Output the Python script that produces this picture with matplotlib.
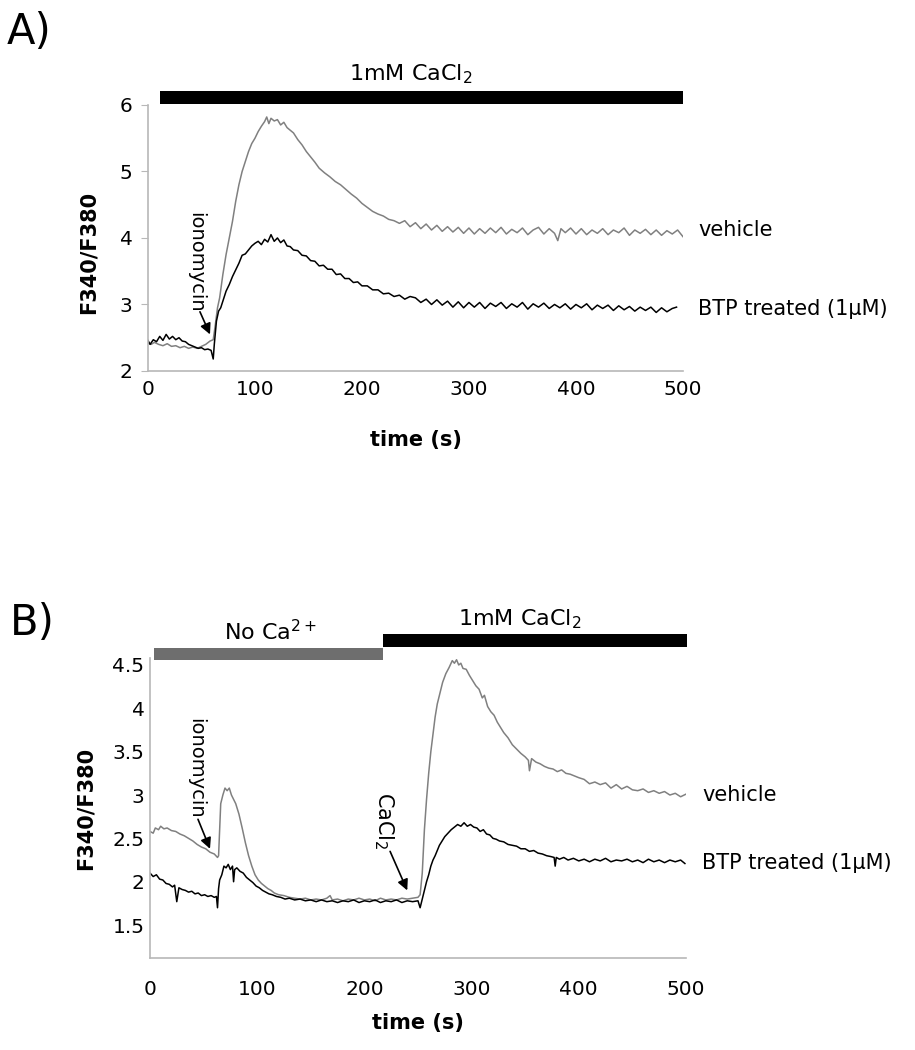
import matplotlib
matplotlib.use("Agg")
import matplotlib.pyplot as plt
import numpy as np
from matplotlib.patches import Rectangle

# panel A traces (time s, F340/F380)
vehicle_a = [(0, 2.42), (3, 2.40), (6, 2.43), (10, 2.40), (14, 2.38), (18, 2.41), (22, 2.37), (26, 2.38),
             (30, 2.35), (34, 2.37), (38, 2.34), (42, 2.36), (46, 2.34), (50, 2.37), (54, 2.40), (58, 2.45),
             (61, 2.47), (63, 2.70), (65, 2.95), (67, 3.10), (70, 3.45), (73, 3.75), (76, 4.00), (79, 4.25),
             (82, 4.55), (85, 4.80), (88, 5.00), (91, 5.15), (94, 5.30), (97, 5.42), (100, 5.50), (103, 5.60),
             (106, 5.68), (109, 5.75), (111, 5.82), (113, 5.72), (115, 5.80), (118, 5.76), (121, 5.78),
             (124, 5.70), (127, 5.74), (130, 5.66), (133, 5.62), (136, 5.58), (140, 5.48), (144, 5.40),
             (148, 5.30), (152, 5.22), (156, 5.14), (160, 5.05), (165, 4.98), (170, 4.92), (175, 4.85),
             (180, 4.80), (185, 4.73), (190, 4.66), (195, 4.60), (200, 4.52), (205, 4.46), (210, 4.40),
             (215, 4.36), (220, 4.33), (225, 4.28), (230, 4.26), (235, 4.22), (240, 4.26), (245, 4.17),
             (250, 4.23), (255, 4.14), (260, 4.21), (265, 4.12), (270, 4.19), (275, 4.10), (280, 4.17),
             (285, 4.09), (290, 4.16), (295, 4.07), (300, 4.15), (305, 4.06), (310, 4.14), (315, 4.07),
             (320, 4.15), (325, 4.08), (330, 4.16), (335, 4.06), (340, 4.13), (345, 4.08), (350, 4.15),
             (355, 4.05), (360, 4.12), (365, 4.16), (370, 4.06), (375, 4.14), (380, 4.07), (383, 3.96),
             (386, 4.14), (390, 4.08), (395, 4.15), (400, 4.06), (405, 4.14), (410, 4.05), (415, 4.12),
             (420, 4.07), (425, 4.14), (430, 4.05), (435, 4.12), (440, 4.08), (445, 4.15), (450, 4.04),
             (455, 4.12), (460, 4.07), (465, 4.13), (470, 4.05), (475, 4.12), (480, 4.04), (485, 4.11),
             (490, 4.06), (495, 4.12), (500, 4.02)]

btp_a = [(0, 2.46), (2, 2.40), (5, 2.47), (8, 2.44), (11, 2.52), (14, 2.46), (17, 2.55), (20, 2.48),
         (23, 2.52), (26, 2.47), (29, 2.50), (32, 2.45), (35, 2.44), (38, 2.40), (41, 2.38), (44, 2.36),
         (47, 2.34), (50, 2.35), (53, 2.32), (56, 2.33), (59, 2.31), (61, 2.18), (62, 2.40), (64, 2.75),
         (66, 2.90), (68, 2.95), (70, 3.05), (73, 3.20), (76, 3.30), (79, 3.42), (82, 3.52), (85, 3.62),
         (88, 3.74), (91, 3.76), (94, 3.82), (97, 3.88), (100, 3.92), (103, 3.95), (106, 3.90), (109, 3.98),
         (112, 3.94), (115, 4.05), (118, 3.95), (121, 4.00), (124, 3.93), (127, 3.97), (130, 3.88),
         (133, 3.87), (136, 3.82), (140, 3.81), (144, 3.74), (148, 3.73), (152, 3.66), (156, 3.65),
         (160, 3.58), (164, 3.59), (168, 3.53), (172, 3.53), (176, 3.45), (180, 3.46), (184, 3.39),
         (188, 3.39), (192, 3.33), (196, 3.34), (200, 3.28), (205, 3.28), (210, 3.22), (215, 3.22),
         (220, 3.16), (225, 3.17), (230, 3.12), (235, 3.14), (240, 3.08), (245, 3.12), (250, 3.10),
         (255, 3.03), (260, 3.08), (265, 3.00), (270, 3.07), (275, 2.99), (280, 3.05), (285, 2.96),
         (290, 3.04), (295, 2.95), (300, 3.03), (305, 2.96), (310, 3.03), (315, 2.94), (320, 3.02),
         (325, 2.97), (330, 3.03), (335, 2.94), (340, 3.01), (345, 2.96), (350, 3.03), (355, 2.93),
         (360, 3.01), (365, 2.96), (370, 3.02), (375, 2.94), (380, 3.00), (385, 2.95), (390, 3.01),
         (395, 2.93), (400, 3.00), (405, 2.95), (410, 3.01), (415, 2.92), (420, 2.99), (425, 2.94),
         (430, 2.99), (435, 2.91), (440, 2.98), (445, 2.92), (450, 2.97), (455, 2.90), (460, 2.96),
         (465, 2.91), (470, 2.96), (475, 2.88), (480, 2.95), (485, 2.89), (490, 2.94), (494, 2.96)]

# panel B traces
vehicle_b = [(0, 2.58), (3, 2.56), (5, 2.62), (8, 2.60), (10, 2.64), (13, 2.61), (16, 2.62), (20, 2.59),
             (24, 2.58), (28, 2.55), (32, 2.53), (36, 2.50), (40, 2.47), (44, 2.43), (48, 2.40), (52, 2.38),
             (56, 2.34), (60, 2.32), (63, 2.28), (64, 2.30), (66, 2.90), (68, 3.00), (70, 3.08), (72, 3.05),
             (74, 3.08), (76, 3.00), (78, 2.95), (80, 2.90), (83, 2.78), (86, 2.62), (89, 2.45), (92, 2.30),
             (95, 2.18), (98, 2.08), (101, 2.02), (104, 1.98), (107, 1.95), (110, 1.92), (113, 1.90),
             (116, 1.87), (120, 1.85), (125, 1.84), (130, 1.82), (135, 1.81), (140, 1.80), (145, 1.81),
             (150, 1.79), (155, 1.80), (160, 1.79), (165, 1.81), (168, 1.84), (170, 1.79), (175, 1.80),
             (180, 1.78), (185, 1.80), (190, 1.79), (195, 1.81), (200, 1.79), (205, 1.80), (210, 1.78),
             (215, 1.81), (220, 1.79), (225, 1.80), (230, 1.79), (235, 1.81), (240, 1.80), (245, 1.81),
             (250, 1.82), (252, 1.85), (254, 2.10), (256, 2.60), (258, 2.95), (260, 3.25), (262, 3.50),
             (264, 3.70), (266, 3.90), (268, 4.05), (270, 4.15), (273, 4.30), (276, 4.40), (279, 4.47),
             (282, 4.55), (284, 4.52), (286, 4.56), (288, 4.50), (290, 4.52), (292, 4.46), (295, 4.45),
             (298, 4.38), (301, 4.32), (304, 4.26), (307, 4.22), (310, 4.12), (312, 4.15), (315, 4.02),
             (318, 3.96), (321, 3.92), (324, 3.84), (327, 3.78), (330, 3.72), (334, 3.66), (338, 3.58),
             (342, 3.53), (346, 3.48), (350, 3.44), (353, 3.40), (354, 3.28), (356, 3.42), (360, 3.38),
             (364, 3.36), (368, 3.33), (372, 3.31), (376, 3.30), (380, 3.27), (384, 3.29), (388, 3.25),
             (392, 3.24), (396, 3.22), (400, 3.20), (405, 3.18), (410, 3.13), (415, 3.15), (420, 3.12),
             (425, 3.14), (430, 3.08), (435, 3.12), (440, 3.07), (445, 3.10), (450, 3.06), (455, 3.05),
             (460, 3.07), (465, 3.03), (470, 3.05), (475, 3.02), (480, 3.04), (485, 3.00), (490, 3.02),
             (495, 2.98), (500, 3.01)]

btp_b = [(0, 2.10), (3, 2.06), (6, 2.08), (9, 2.03), (12, 2.02), (15, 1.98), (18, 1.97), (21, 1.94),
         (23, 1.96), (25, 1.77), (27, 1.93), (30, 1.91), (33, 1.90), (36, 1.88), (39, 1.89), (42, 1.86),
         (45, 1.87), (48, 1.84), (51, 1.85), (54, 1.83), (57, 1.84), (60, 1.82), (62, 1.83), (63, 1.70),
         (64, 1.92), (65, 2.02), (67, 2.08), (69, 2.18), (71, 2.16), (73, 2.20), (75, 2.14), (77, 2.18),
         (78, 2.00), (79, 2.14), (81, 2.16), (84, 2.12), (87, 2.10), (90, 2.05), (93, 2.02), (96, 1.99),
         (99, 1.95), (102, 1.93), (105, 1.90), (108, 1.88), (111, 1.86), (114, 1.85), (118, 1.83),
         (122, 1.82), (126, 1.80), (130, 1.81), (135, 1.79), (140, 1.80), (145, 1.78), (150, 1.79),
         (155, 1.77), (160, 1.79), (165, 1.77), (170, 1.78), (175, 1.76), (180, 1.78), (185, 1.77),
         (190, 1.79), (195, 1.76), (200, 1.78), (205, 1.77), (210, 1.79), (215, 1.76), (220, 1.78),
         (225, 1.77), (230, 1.79), (235, 1.76), (240, 1.78), (245, 1.77), (250, 1.78), (252, 1.70),
         (254, 1.80), (256, 1.90), (258, 2.00), (260, 2.08), (262, 2.18), (264, 2.25), (266, 2.30),
         (268, 2.36), (270, 2.42), (272, 2.46), (275, 2.52), (278, 2.56), (281, 2.60), (284, 2.63),
         (287, 2.66), (290, 2.64), (293, 2.68), (296, 2.64), (299, 2.66), (302, 2.63), (305, 2.62),
         (308, 2.58), (311, 2.60), (314, 2.55), (317, 2.54), (320, 2.50), (323, 2.49), (326, 2.47),
         (330, 2.46), (334, 2.43), (338, 2.42), (342, 2.41), (346, 2.38), (350, 2.38), (354, 2.35),
         (358, 2.36), (362, 2.33), (366, 2.32), (370, 2.30), (374, 2.29), (377, 2.28), (378, 2.18),
         (379, 2.28), (382, 2.26), (386, 2.28), (390, 2.25), (395, 2.27), (400, 2.24), (405, 2.26),
         (410, 2.23), (415, 2.26), (420, 2.24), (425, 2.27), (430, 2.23), (435, 2.25), (440, 2.24),
         (445, 2.26), (450, 2.23), (455, 2.25), (460, 2.22), (465, 2.26), (470, 2.23), (475, 2.25),
         (480, 2.22), (485, 2.25), (490, 2.23), (495, 2.25), (499, 2.21)]

# treatment bars: (start s, end s, label)
bars_a = [(11, 500, "1mM CaCl$_2$")]
bars_b = [(4, 217, "No Ca$^{2+}$"), (217, 501, "1mM CaCl$_2$")]

yticks_a = [2, 3, 4, 5, 6]
yticks_b = [1.5, 2, 2.5, 3, 3.5, 4, 4.5]
xticks = [0, 100, 200, 300, 400, 500]

GRAY = "#808080"
SPINE = "#b8b8b8"
FS = 14.5

plt.rcParams["font.family"] = "DejaVu Sans"

fig = plt.figure(figsize=(9.15, 10.5), dpi=100)
ax_a = fig.add_axes([0.1617, 0.6467, 0.5847, 0.2533])
ax_b = fig.add_axes([0.1639, 0.0876, 0.5858, 0.2857])


def style(ax, ylim, yticks, ytick_len, xpad, ypad):
    ax.set_xlim(0, 500)
    ax.set_ylim(*ylim)
    ax.set_xticks(xticks)
    ax.set_yticks(yticks)
    ax.set_yticklabels([f"{v:g}" for v in yticks])
    for s in ["top", "right"]:
        ax.spines[s].set_visible(False)
    for s in ["left", "bottom"]:
        ax.spines[s].set_color(SPINE)
        ax.spines[s].set_linewidth(1.2)
    ax.tick_params(axis="x", length=0, pad=xpad, labelsize=FS)
    ax.tick_params(axis="y", length=ytick_len, color=SPINE, pad=ypad, labelsize=FS)
    ax.set_xlabel("time (s)", fontsize=15, fontweight="bold")
    ax.set_ylabel("F340/F380", fontsize=15, fontweight="bold")


def draw_bar(ax, x0, x1, y0, y1, color):
    ax.add_patch(Rectangle((x0, y0), x1 - x0, y1 - y0, facecolor=color,
                           edgecolor="none", clip_on=False))


arrow = dict(arrowstyle="-|>", color="black", lw=1.2, mutation_scale=16, shrinkA=0, shrinkB=0)

# ---- panel A
t, v = np.array(vehicle_a).T
ax_a.plot(t, v, color=GRAY, lw=1.1)
t, v = np.array(btp_a).T
ax_a.plot(t, v, color="black", lw=1.1)
style(ax_a, (2, 6), yticks_a, 5, 6.5, 6)
ax_a.xaxis.set_label_coords(0.5, -0.222)
ax_a.yaxis.set_label_coords(-0.093, 0.444)

x0, x1, lab = bars_a[0]
draw_bar(ax_a, x0, x1, 6.015, 6.21, "black")
ax_a.text(246, 6.365, lab, ha="center", va="baseline", fontsize=16)

ax_a.text(514, 4.12, "vehicle", ha="left", va="center", fontsize=15)
ax_a.text(514, 2.93, "BTP treated (1\u03bcM)", ha="left", va="center", fontsize=15)

ax_a.text(44.9, 3.64, "ionomycin", rotation=-90, ha="center", va="center", fontsize=14)
ax_a.annotate("", xy=(58, 2.55), xytext=(48.6, 2.89), arrowprops=arrow)

# ---- panel B
t, v = np.array(vehicle_b).T
ax_b.plot(t, v, color=GRAY, lw=1.1)
t, v = np.array(btp_b).T
ax_b.plot(t, v, color="black", lw=1.1)
style(ax_b, (1.12, 4.58), yticks_b, 0, 16, 4)
ax_b.xaxis.set_label_coords(0.5, -0.183)
ax_b.yaxis.set_label_coords(-0.101, 0.5)

(g0, g1, glab), (k0, k1, klab) = bars_b
draw_bar(ax_b, g0, g1, 4.56, 4.70, "#6e6e6e")
draw_bar(ax_b, k0, k1, 4.71, 4.86, "black")
ax_b.text(112, 4.78, glab, ha="center", va="baseline", fontsize=16)
ax_b.text(345, 4.96, klab, ha="center", va="baseline", fontsize=16)

ax_b.text(515, 3.0, "vehicle", ha="left", va="center", fontsize=15)
ax_b.text(515, 2.22, "BTP treated (1\u03bcM)", ha="left", va="center", fontsize=15)

ax_b.text(42.9, 3.31, "ionomycin", rotation=-90, ha="center", va="center", fontsize=14)
ax_b.annotate("", xy=(56, 2.38), xytext=(44.8, 2.72), arrowprops=arrow)
ax_b.text(218.3, 2.70, "CaCl$_2$", rotation=-90, ha="center", va="center", fontsize=15)
ax_b.annotate("", xy=(240, 1.90), xytext=(224, 2.35), arrowprops=arrow)

fig.text(7 / 915, 1 - 44 / 1050, "A)", fontsize=30, va="baseline", ha="left")
fig.text(10 / 915, 1 - 635 / 1050, "B)", fontsize=30, va="baseline", ha="left")

fig.savefig("out.png", dpi=100)
